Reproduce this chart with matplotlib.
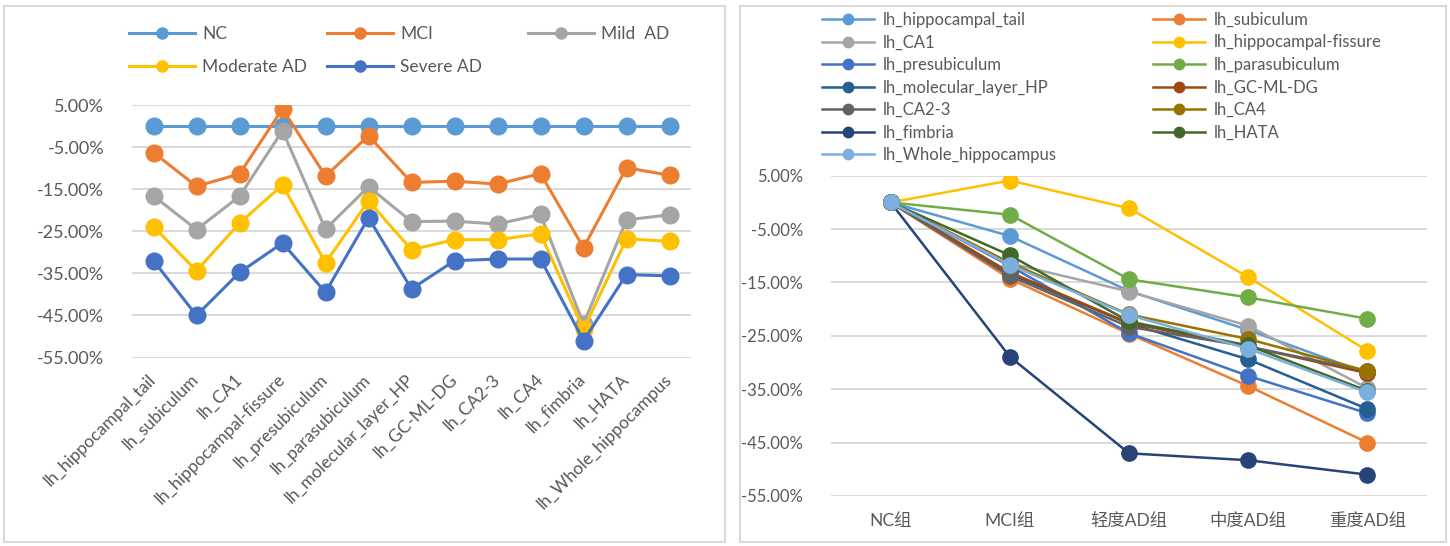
import matplotlib
matplotlib.use('Agg')
import matplotlib.pyplot as plt
from matplotlib.ticker import PercentFormatter
from matplotlib.lines import Line2D
from matplotlib.patches import Rectangle

plt.rcParams['font.family'] = ['Lato', 'Noto Sans CJK SC', 'DejaVu Sans']
plt.rcParams['axes.unicode_minus'] = False

# data (percent change vs NC)
regions = ['lh_hippocampal_tail', 'lh_subiculum', 'lh_CA1', 'lh_hippocampal-fissure',
           'lh_presubiculum', 'lh_parasubiculum', 'lh_molecular_layer_HP', 'lh_GC-ML-DG',
           'lh_CA2-3', 'lh_CA4', 'lh_fimbria', 'lh_HATA', 'lh_Whole_hippocampus']
groups_en = ['NC', 'MCI', 'Mild  AD', 'Moderate AD', 'Severe AD']
groups_cn = ['NC组', 'MCI组', '轻度AD组', '中度AD组', '重度AD组']

nc = [0, 0, 0, 0, 0, 0, 0, 0, 0, 0, 0, 0, 0]
mci = [-6.3, -14.3, -11.4, 4.1, -11.9, -2.3, -13.4, -13.1, -13.8, -11.3, -28.9, -9.9, -11.7]
mild = [-16.6, -24.6, -16.7, -1.1, -24.5, -14.4, -22.7, -22.6, -23.3, -21.0, -47.0, -22.3, -21.1]
moderate = [-23.9, -34.4, -23.1, -14.0, -32.5, -17.8, -29.4, -27.0, -27.0, -25.6, -48.3, -26.8, -27.4]
severe = [-32.0, -45.0, -34.8, -27.8, -39.5, -21.8, -38.7, -32.0, -31.6, -31.6, -51.0, -35.3, -35.6]
table = [nc, mci, mild, moderate, severe]

yticks = [5, -5, -15, -25, -35, -45, -55]

group_colors = ['#5B9BD5', '#ED7D31', '#A5A5A5', '#FFC000', '#4472C4']
region_colors = ['#5B9BD5', '#ED7D31', '#A5A5A5', '#FFC000', '#4472C4', '#70AD47',
                 '#255E91', '#9E480E', '#636363', '#997300', '#264478', '#43682B', '#7CAFDD']

W, H = 1450, 546
fig = plt.figure(figsize=(W / 100, H / 100), dpi=100)


def px_axes(x0, y0, x1, y1):
    return fig.add_axes([x0 / W, 1 - y1 / H, (x1 - x0) / W, (y1 - y0) / H])


def style(ax, fs):
    ax.set_ylim(-55, 5)
    ax.set_yticks(yticks)
    ax.yaxis.set_major_formatter(PercentFormatter(xmax=100, decimals=2))
    ax.grid(axis='y', color='#D9D9D9', lw=1.4)
    ax.set_axisbelow(True)
    for s in ax.spines.values():
        s.set_visible(False)
    ax.tick_params(length=0, colors='#595959', labelsize=fs)
    ax.tick_params(axis='y', pad=20)


def px_legend(ax, handles, labels, x, y, fs, hl, lsp, htp):
    lg = ax.legend(handles, labels, loc='upper left', bbox_to_anchor=(x / W, 1 - y / H),
                   bbox_transform=fig.transFigure, frameon=False, borderpad=0,
                   borderaxespad=0, fontsize=fs, handlelength=hl, labelspacing=lsp,
                   handletextpad=htp, labelcolor='#595959')
    ax.add_artist(lg)
    ax.legend_ = None  # keep it only as an artist, otherwise drawn twice
    return lg


# panel borders
fig.patches.append(Rectangle((4 / W, 1 - 542 / H), 721 / W, 536 / H, transform=fig.transFigure,
                             fill=False, ec='#D9D9D9', lw=1.5))
fig.patches.append(Rectangle((740 / W, 1 - 542 / H), 706 / W, 536 / H, transform=fig.transFigure,
                             fill=False, ec='#D9D9D9', lw=1.5))

# left: regions on x, one line per group
ax1 = px_axes(132, 105, 691, 357.5)
style(ax1, 13)
xs = list(range(len(regions)))
h1 = []
for vals, col, name in zip(table, group_colors, groups_en):
    ax1.plot(xs, vals, color=col, lw=2.2, marker='o', ms=12, mec=col)
    h1.append(Line2D([], [], color=col, lw=2.2, marker='o', ms=8))
ax1.set_xlim(-0.5, len(regions) - 0.5)
ax1.set_xticks(xs)
ax1.set_xticklabels(regions, rotation=45, ha='right', va='center', rotation_mode='anchor', fontsize=12.5)
ax1.tick_params(axis='x', pad=14)

px_legend(ax1, [h1[0], h1[3]], [groups_en[0], groups_en[3]], 129, 26, 12.5, 3.8, 0.98, 0.4)
px_legend(ax1, [h1[1], h1[4]], [groups_en[1], groups_en[4]], 327, 26, 12.5, 3.8, 0.98, 0.4)
px_legend(ax1, [h1[2]], [groups_en[2]], 528, 26, 12.5, 3.8, 0.98, 0.4)

# right: groups on x, one line per region
ax2 = px_axes(831, 175.7, 1427, 496)
style(ax2, 12)
xg = list(range(len(groups_cn)))
h2 = []
for j, (name, col) in enumerate(zip(regions, region_colors)):
    vals = [row[j] for row in table]
    ax2.plot(xg, vals, color=col, lw=1.8, marker='o', ms=11, mec=col)
    h2.append(Line2D([], [], color=col, lw=1.8, marker='o', ms=7.5))
ax2.set_xlim(-0.5, len(groups_cn) - 0.5)
ax2.set_xticks(xg)
ax2.set_xticklabels(groups_cn, fontsize=12.5)
ax2.tick_params(axis='x', pad=12)

px_legend(ax2, h2[0::2], regions[0::2], 822, 12, 12, 3.1, 0.39, 0.55)
px_legend(ax2, h2[1::2], regions[1::2], 1153, 12, 12, 3.1, 0.39, 0.55)

fig.savefig('out.png', dpi=100)
